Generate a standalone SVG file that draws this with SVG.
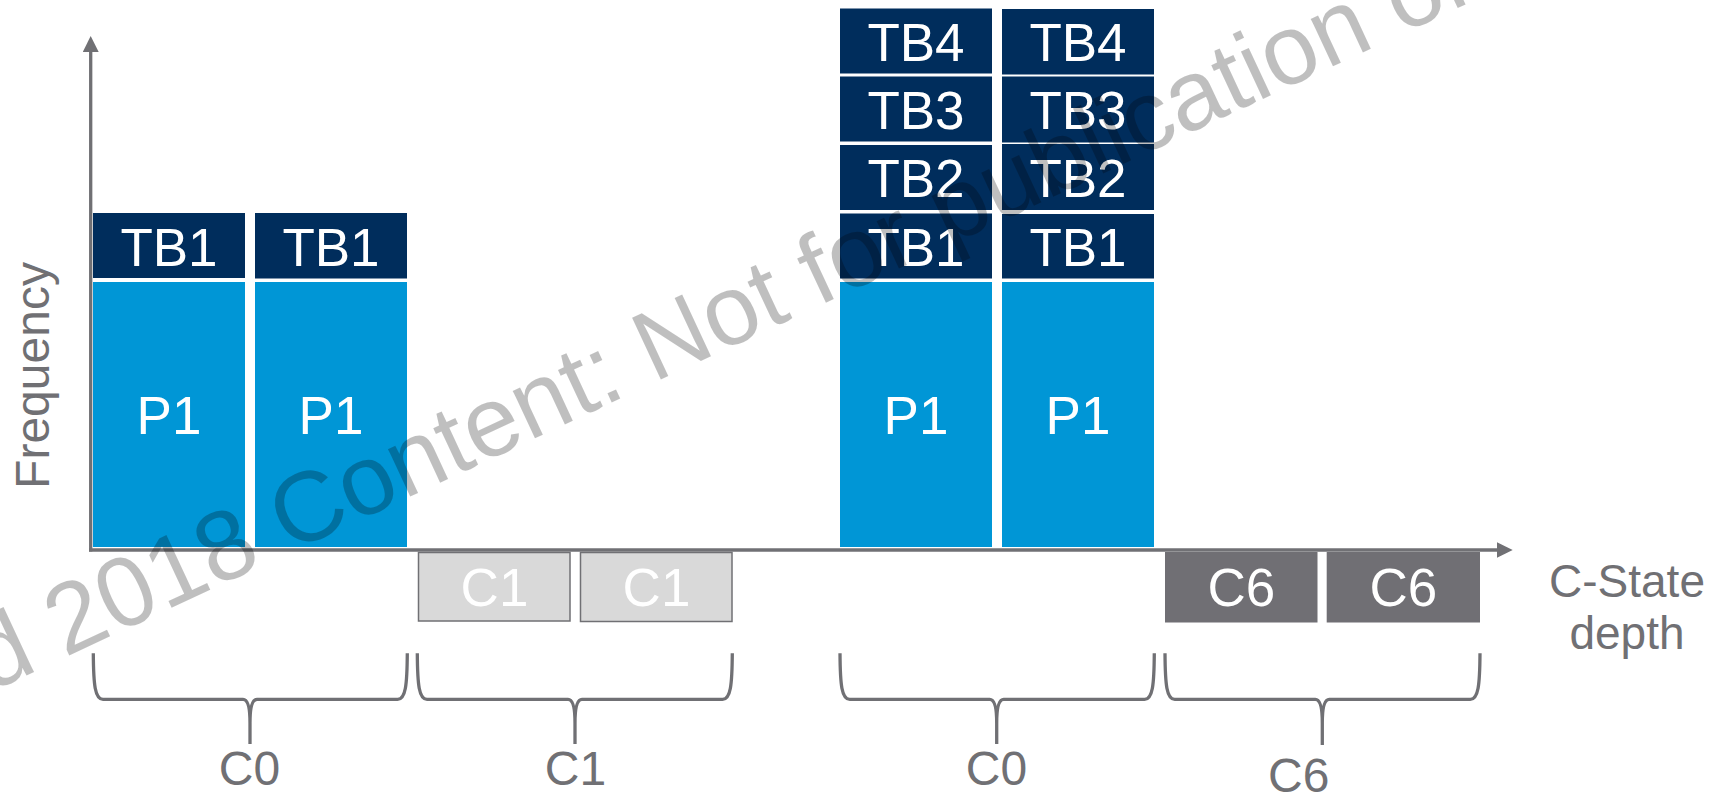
<svg xmlns="http://www.w3.org/2000/svg" width="1721" height="795" viewBox="0 0 1721 795">
<defs>
<style>
.tb{fill:#002d5c}
.p1{fill:#0096d6}
.c1{fill:#d9d9d9;stroke:#707074;stroke-width:1.5}
.c6{fill:#706f74}
.lbl{font-family:"Liberation Sans",Arial,sans-serif;font-size:53px;fill:#ffffff;text-anchor:middle}
.glbl{font-family:"Liberation Sans",Arial,sans-serif;font-size:48px;fill:#707074;text-anchor:middle}
.axis{stroke:#707074;stroke-width:3.3;fill:none}
.brace{stroke:#707074;stroke-width:3.3;fill:none;stroke-linejoin:round}
.wm{font-family:"Liberation Sans",Arial,sans-serif;font-size:99px;fill:#000000;fill-opacity:0.25}
</style>
<marker id="arrow" markerUnits="userSpaceOnUse" viewBox="0 0 16 16" markerWidth="16" markerHeight="16" refX="8" refY="8" orient="auto">
<path d="M0,0 L16,8 L0,16 z" fill="#707074"/>
</marker>
</defs>
<rect width="1721" height="795" fill="#ffffff"/>

<g id="c0a-tb1-1"><rect class="tb" x="93" y="213" width="152" height="65"/><text class="lbl" x="169" y="266">TB1</text></g>
<g id="c0a-tb1-2"><rect class="tb" x="255" y="213" width="152" height="65.5"/><text class="lbl" x="331" y="266">TB1</text></g>
<g id="c0a-p1-1"><rect class="p1" x="93" y="282" width="152" height="265"/><text class="lbl" x="169" y="434">P1</text></g>
<g id="c0a-p1-2"><rect class="p1" x="255" y="282" width="152" height="265"/><text class="lbl" x="331" y="434">P1</text></g>

<g id="c1-1"><rect class="c1" x="418.5" y="552.5" width="151.5" height="68.5"/><text class="lbl" x="494.5" y="606">C1</text></g>
<g id="c1-2"><rect class="c1" x="580.5" y="552.5" width="151.5" height="69"/><text class="lbl" x="656.5" y="606">C1</text></g>

<g id="c0b-tb4-1"><rect class="tb" x="840" y="8.5" width="152" height="65"/><text class="lbl" x="916" y="61">TB4</text></g>
<g id="c0b-tb3-1"><rect class="tb" x="840" y="76.5" width="152" height="65"/><text class="lbl" x="916" y="129">TB3</text></g>
<g id="c0b-tb2-1"><rect class="tb" x="840" y="145" width="152" height="65"/><text class="lbl" x="916" y="197">TB2</text></g>
<g id="c0b-tb1-1"><rect class="tb" x="840" y="213.5" width="152" height="65"/><text class="lbl" x="916" y="266">TB1</text></g>
<g id="c0b-p1-1"><rect class="p1" x="840" y="282" width="152" height="265"/><text class="lbl" x="916" y="434">P1</text></g>

<g id="c0b-tb4-2"><rect class="tb" x="1002" y="9" width="152" height="65.5"/><text class="lbl" x="1078" y="61">TB4</text></g>
<g id="c0b-tb3-2"><rect class="tb" x="1002" y="76.5" width="152" height="66"/><text class="lbl" x="1078" y="129">TB3</text></g>
<g id="c0b-tb2-2"><rect class="tb" x="1002" y="144" width="152" height="66"/><text class="lbl" x="1078" y="197">TB2</text></g>
<g id="c0b-tb1-2"><rect class="tb" x="1002" y="214" width="152" height="64.5"/><text class="lbl" x="1078" y="266">TB1</text></g>
<g id="c0b-p1-2"><rect class="p1" x="1002" y="282" width="152" height="265"/><text class="lbl" x="1078" y="434">P1</text></g>

<g id="c6-1"><rect class="c6" x="1165" y="552" width="152.5" height="70.5"/><text class="lbl" x="1241.3" y="606">C6</text></g>
<g id="c6-2"><rect class="c6" x="1326.7" y="552" width="153.3" height="70.5"/><text class="lbl" x="1403.3" y="606">C6</text></g>

<g id="connectors">
<path class="axis" d="M90.7,551.6 V44" marker-end="url(#arrow)"/>
<path class="axis" d="M89,550 H1504.7" marker-end="url(#arrow)"/>
<path class="brace" d="M93.3,653.3 C93.5,685 95,699.3 103,699.3 H243 C247,699.3 250,705 250,723 V744 M407.3,653.3 C407.1,685 405.6,699.3 397.6,699.3 H257 C253,699.3 250,705 250,723"/>
<path class="brace" d="M417.3,653.3 C417.5,685 419,699.3 427,699.3 H568 C572,699.3 575,705 575,723 V744 M732.3,653.3 C732.1,685 730.6,699.3 722.6,699.3 H582 C578,699.3 575,705 575,723"/>
<path class="brace" d="M840,653.3 C840.2,685 841.7,699.3 849.7,699.3 H989.7 C993.7,699.3 996.7,705 996.7,723 V744 M1154.3,653.3 C1154.1,685 1152.6,699.3 1144.6,699.3 H1003.7 C999.7,699.3 996.7,705 996.7,723"/>
<path class="brace" d="M1165,653.3 C1165.2,685 1166.7,699.3 1174.7,699.3 H1315.3 C1319.3,699.3 1322.3,705 1322.3,723 V745 M1480,653.3 C1479.8,685 1478.3,699.3 1470.3,699.3 H1329.3 C1325.3,699.3 1322.3,705 1322.3,723"/>
</g>

<g id="labels">
<text class="glbl" x="249.5" y="785">C0</text>
<text class="glbl" x="575.5" y="785">C1</text>
<text class="glbl" x="996.5" y="785">C0</text>
<text class="glbl" x="1298.7" y="791.5">C6</text>
<text class="glbl" style="font-size:46px" x="1627" y="597.3">C-State</text>
<text class="glbl" style="font-size:46px" x="1627" y="649">depth</text>
<text class="glbl" transform="translate(49.3,375.5) rotate(-90)">Frequency</text>
</g>

<text class="wm" transform="translate(-10,692.5) rotate(-25)">d 2018 Content: Not for publication or</text>
</svg>
